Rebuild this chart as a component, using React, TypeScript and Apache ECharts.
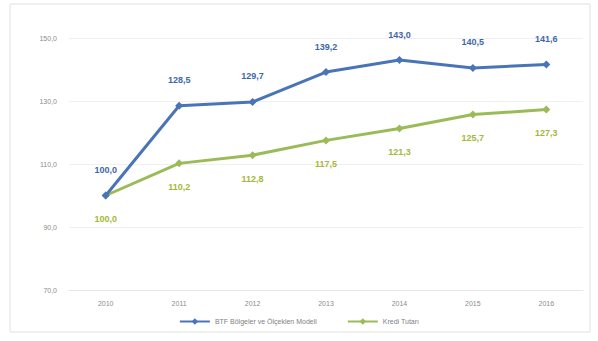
import React, { useEffect, useRef } from "react";
import * as echarts from "echarts";

const years = ["2010", "2011", "2012", "2013", "2014", "2015", "2016"];
const seriesANames = "BTF Bölgeler ve Ölçeklen Modeli";
const seriesBNames = "Kredi Tutarı";
const seriesA = [100.0, 128.5, 129.7, 139.2, 143.0, 140.5, 141.6];
const seriesB = [100.0, 110.2, 112.8, 117.5, 121.3, 125.7, 127.3];
const yTicks = { min: 70, max: 150, interval: 20 };

const fmt = (v: number) => v.toFixed(1).replace(".", ",");

export default function App() {
  const ref = useRef<HTMLDivElement>(null);
  useEffect(() => {
    if (!ref.current) return;
    const chart = echarts.init(ref.current, undefined, { renderer: "svg" });
    chart.setOption({
      animation: false,
      backgroundColor: "#ffffff",
      textStyle: { fontFamily: "Liberation Sans, Arial, sans-serif" },
      graphic: [
        {
          type: "rect",
          shape: { x: 10, y: 4, width: 580, height: 328 },
          style: { fill: "none", stroke: "#e0e0e0", lineWidth: 1 },
          silent: true,
        },
      ],
      grid: { left: 69, right: 15, top: 38, bottom: 51 },
      legend: {
        bottom: 11,
        left: "center",
        itemWidth: 30,
        itemHeight: 8,
        itemGap: 30,
        textStyle: { fontSize: 7, color: "#7f7f7f" },
        data: [seriesANames, seriesBNames],
      },
      xAxis: {
        type: "category",
        data: years,
        boundaryGap: true,
        axisLine: { lineStyle: { color: "#e6e6e6" } },
        axisTick: { show: false },
        axisLabel: { fontSize: 7, color: "#8c8c8c", margin: 10 },
      },
      yAxis: {
        type: "value",
        min: yTicks.min,
        max: yTicks.max,
        interval: yTicks.interval,
        axisLine: { show: false },
        axisTick: { show: false },
        axisLabel: { fontSize: 7, color: "#8c8c8c", margin: 12, formatter: (v: number) => fmt(v) },
        splitLine: { lineStyle: { color: "#f0f0f0" } },
      },
      series: [
        {
          name: seriesANames,
          type: "line",
          data: seriesA,
          symbol: "diamond",
          symbolSize: 8,
          color: "#4a74b8",
          lineStyle: { width: 3, color: "#4a74b8" },
          label: {
            show: true,
            position: "top",
            distance: 17,
            fontSize: 9,
            fontWeight: "bold",
            color: "#3f67a8",
            formatter: (p: any) => fmt(p.value),
          },
          z: 3,
        },
        {
          name: seriesBNames,
          type: "line",
          data: seriesB,
          symbol: "diamond",
          symbolSize: 8,
          color: "#9bbb59",
          lineStyle: { width: 3, color: "#9bbb59" },
          label: {
            show: true,
            position: "bottom",
            distance: 15,
            fontSize: 9,
            fontWeight: "bold",
            color: "#a5b83a",
            formatter: (p: any) => fmt(p.value),
          },
          z: 2,
        },
      ],
    });
    return () => chart.dispose();
  }, []);
  return (
    <div
      ref={ref}
      style={{ position: "fixed", left: 0, top: 0, width: 598, height: 341 }}
    />
  );
}
